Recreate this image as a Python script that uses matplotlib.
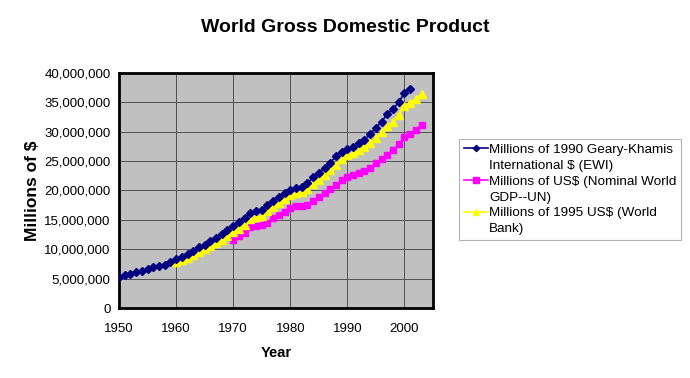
import numpy as np
import matplotlib
matplotlib.use("Agg")
import matplotlib.pyplot as plt
from matplotlib.lines import Line2D
from matplotlib.ticker import FuncFormatter, MultipleLocator

plt.rcParams['font.family'] = ['Liberation Sans', 'DejaVu Sans']

# Millions of 1990 Geary-Khamis International $ (EWI), 1950-2001
years_ewi = list(range(1950, 2002))
gdp_ewi = [5.30, 5.60, 5.85, 6.10, 6.30, 6.65, 6.95, 7.20, 7.40, 7.80,
           8.40, 8.75, 9.20, 9.65, 10.30, 10.80, 11.40, 11.90, 12.60, 13.30,
           14.00, 14.55, 15.30, 16.20, 16.50, 16.70, 17.50, 18.20, 18.90, 19.60,
           20.10, 20.40, 20.60, 21.20, 22.20, 23.00, 23.80, 24.70, 25.80, 26.60,
           27.10, 27.40, 28.00, 28.60, 29.60, 30.60, 31.70, 33.00, 33.80, 35.00,
           36.60, 37.30]

# Millions of US$ (Nominal World GDP--UN), 1970-2003
years_un = list(range(1970, 2004))
gdp_un = [11.6, 12.2, 12.8, 13.7, 13.9, 14.1, 14.5, 15.3, 15.8, 16.4,
          17.0, 17.3, 17.4, 17.6, 18.2, 18.9, 19.5, 20.2, 20.9, 21.7,
          22.3, 22.7, 23.0, 23.3, 23.8, 24.6, 25.4, 26.1, 26.9, 27.9,
          29.0, 29.6, 30.3, 31.2]

# Millions of 1995 US$ (World Bank), 1960-2003
years_wb = list(range(1960, 2004))
gdp_wb = [7.75, 8.10, 8.55, 8.95, 9.55, 10.05, 10.55, 11.00, 11.60, 12.30,
          13.00, 13.50, 14.20, 15.10, 15.40, 15.60, 16.50, 17.20, 17.90, 18.60,
          19.30, 19.60, 19.80, 20.30, 21.10, 21.80, 22.60, 23.40, 24.40, 25.30,
          26.00, 26.40, 26.80, 27.30, 28.10, 28.90, 29.90, 31.00, 31.60, 32.80,
          34.40, 34.90, 35.60, 36.40]

# legend labels, each split over two rows like the original
labels = [("Millions of 1990 Geary-Khamis", "International $ (EWI)"),
          ("Millions of US$ (Nominal World", "GDP--UN)"),
          ("Millions of 1995 US$ (World", "Bank)")]

fig = plt.figure(figsize=(6.9, 3.78), dpi=100)
ax = fig.add_axes([0.1725, 0.185, 0.455, 0.6225])
ax.set_facecolor('#C0C0C0')

scale = 1e6
l1, = ax.plot(years_ewi, np.array(gdp_ewi) * scale, color='#000080', marker='D',
              markersize=4, linewidth=1.2, zorder=4)
l2, = ax.plot(years_un, np.array(gdp_un) * scale, color='#FF00FF', marker='s',
              markersize=5, linewidth=1.2, zorder=3)
l3, = ax.plot(years_wb, np.array(gdp_wb) * scale, color='#FFFF00', marker='^',
              markersize=6, linewidth=1.2, zorder=3)

ax.set_xlim(1950, 2005)
ax.set_ylim(0, 40e6)
ax.set_xticks(range(1950, 2001, 10))
ax.yaxis.set_major_locator(MultipleLocator(5e6))
ax.yaxis.set_major_formatter(FuncFormatter(lambda v, p: f"{int(round(v)):,}"))
ax.grid(True, color='#505050', linewidth=0.7)
ax.set_axisbelow(True)
ax.tick_params(axis='y', length=0, labelsize=9.5, pad=6)
ax.tick_params(axis='x', length=0, labelsize=9.5, pad=11)
for s in ax.spines.values():
    s.set_linewidth(2)
    s.set_color('black')

ax.set_xlabel("Year", fontsize=10.5, fontweight='bold', labelpad=8)
ax.set_ylabel("Millions of $", fontsize=12.5, fontweight='bold', labelpad=3)
fig.suptitle("World Gross Domestic Product", fontsize=14, fontweight='bold',
             x=0.5, y=1 - 28 / 378, va='center')

# blank handles for the second row of each label
handles, texts = [], []
for line, (first, second) in zip([l1, l2, l3], labels):
    handles += [line, Line2D([], [], linestyle='none')]
    texts += [first, second]

leg = fig.legend(handles, texts, loc='upper left',
                 bbox_to_anchor=(459 / 690, 1 - 139 / 378),
                 borderaxespad=0, fontsize=9.7, frameon=True, fancybox=False,
                 edgecolor='#a0a0a0', handlelength=1.8, handletextpad=0.1,
                 borderpad=0.35, labelspacing=0.25, markerscale=0.8)
leg.get_frame().set_linewidth(0.8)

fig.savefig("out.png", dpi=100)
